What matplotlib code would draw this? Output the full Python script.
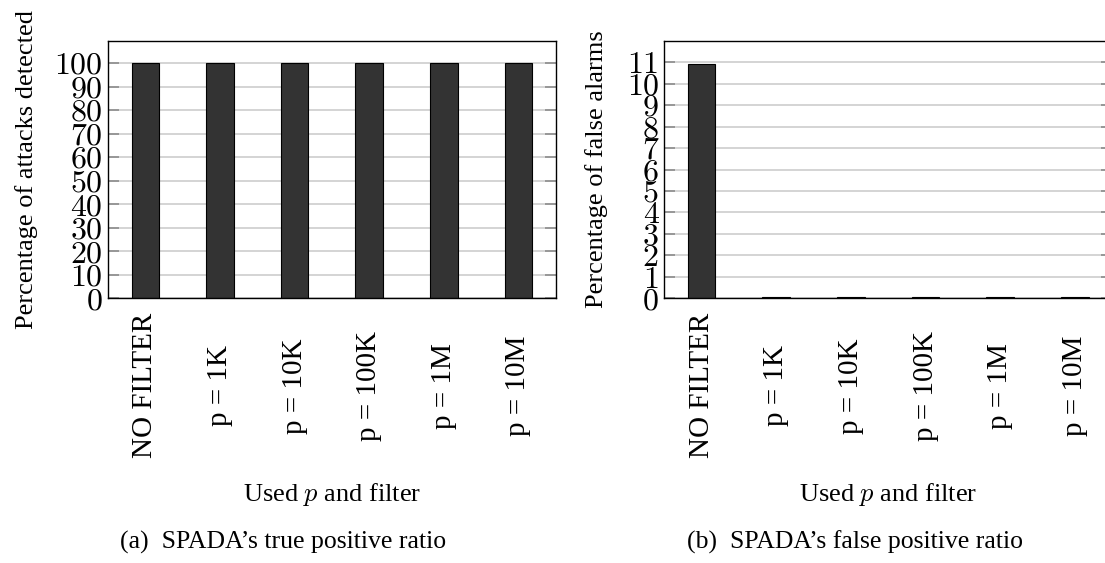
import numpy as np
import matplotlib
matplotlib.use("Agg")
import matplotlib.pyplot as plt

plt.rcParams["font.family"] = ["Liberation Serif", "DejaVu Serif"]
plt.rcParams["mathtext.fontset"] = "cm"

# data
categories = ["NO FILTER", "p = 1K", "p = 10K", "p = 100K", "p = 1M", "p = 10M"]
true_positive = [100, 100, 100, 100, 100, 100]
false_positive = [10.9, 0.05, 0.05, 0.05, 0.05, 0.05]

tp_ticks = [0, 10, 20, 30, 40, 50, 60, 70, 80, 90, 100]
fp_ticks = [0, 1, 2, 3, 4, 5, 6, 7, 8, 9, 10, 11]

fig = plt.figure(figsize=(11.05, 5.63), dpi=100)

ax1 = fig.add_axes([108 / 1105, 1 - 298.3 / 563, 447.7 / 1105, 257.6 / 563])
ax2 = fig.add_axes([664.3 / 1105, 1 - 298.3 / 563, 447.8 / 1105, 257.6 / 563])


def draw_panel(ax, values, yticks, ymax, ylabel):
    x = np.arange(len(categories))
    ax.bar(x, values, width=0.37, color="#333333", edgecolor="black",
           linewidth=0.8, zorder=3)
    ax.set_xlim(-0.5, len(categories) - 0.5)
    ax.set_ylim(0, ymax)
    ax.set_yticks(yticks)
    ax.set_yticklabels([str(t) for t in yticks], fontfamily="cmr10",
                       fontsize=23)
    ax.yaxis.grid(True, color="#d4d4d4", linewidth=1.4, zorder=0)
    ax.tick_params(axis="y", direction="in", length=8, width=1.2,
                   color="#8c8c8c", left=True, right=True, pad=4)
    ax.set_xticks(x)
    ax.set_xticklabels(categories, rotation=90, fontsize=21, va="center")
    ax.tick_params(axis="x", length=0, pad=63)
    ax.set_xlabel("Used $p$ and filter", fontsize=19, labelpad=16)
    ax.set_ylabel(ylabel, fontsize=19)
    for s in ax.spines.values():
        s.set_linewidth(1.0)
        s.set_zorder(4)


draw_panel(ax1, true_positive, tp_ticks, 109.6, "Percentage of attacks detected")
ax1.yaxis.set_label_coords(-70 / 447.7, 0.5)

draw_panel(ax2, false_positive, fp_ticks, 12, "Percentage of false alarms")
ax2.yaxis.set_label_coords(-56 / 447.8, 0.5)

fig.text(283 / 1105, 1 - 542 / 563, "(a)  SPADA\u2019s true positive ratio",
         fontsize=18.5, ha="center", va="center")
fig.text(855 / 1105, 1 - 542 / 563, "(b)  SPADA\u2019s false positive ratio",
         fontsize=18.5, ha="center", va="center")

fig.savefig("out.png", dpi=100)
